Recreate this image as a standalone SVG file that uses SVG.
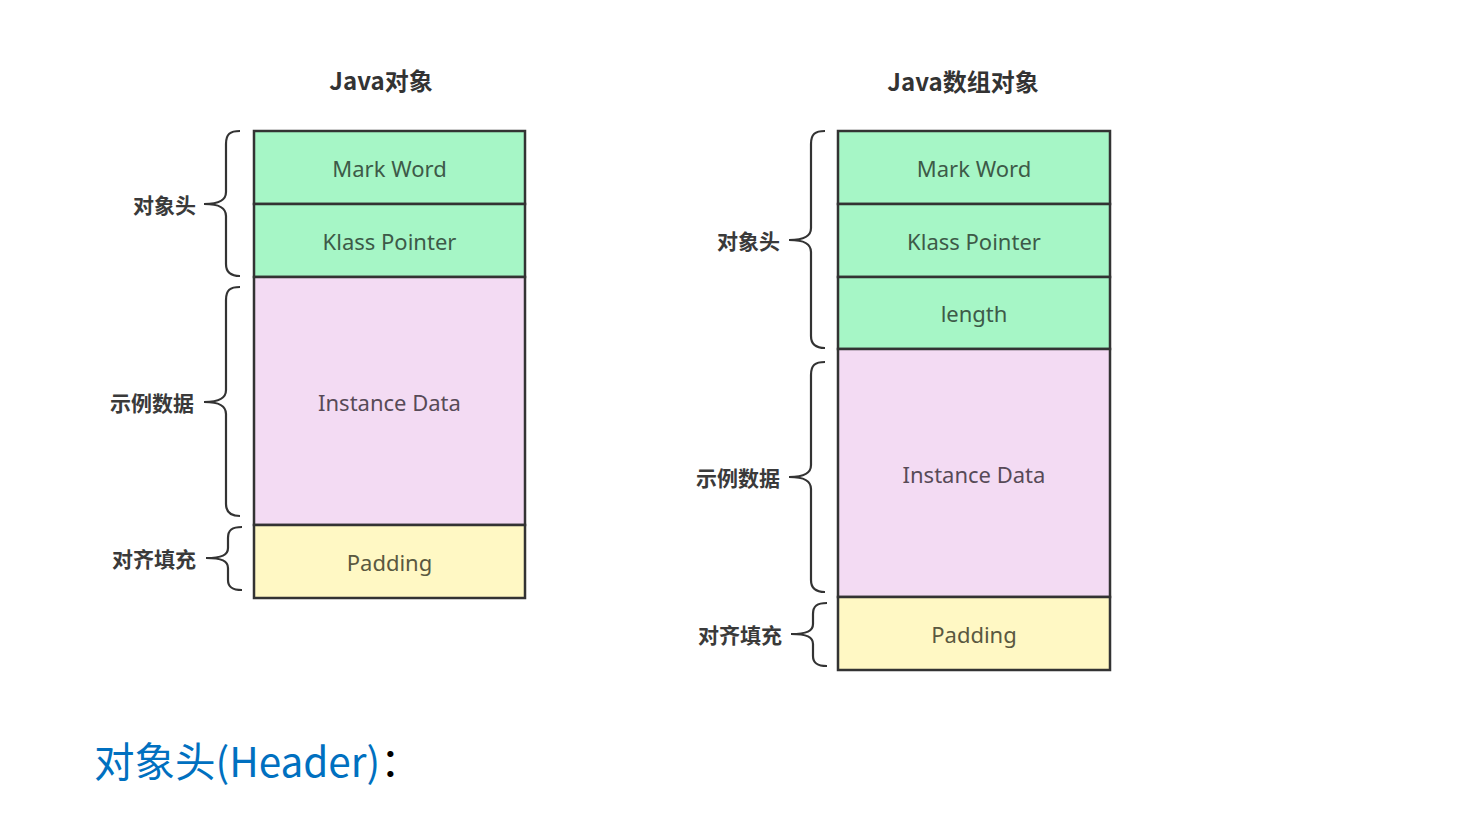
<svg xmlns="http://www.w3.org/2000/svg" width="1465" height="818" viewBox="0 0 1465 818">
<style>
.box{stroke:#333333;stroke-width:2.5}
.g{fill:#a6f6c6}
.p{fill:#f3dbf3}
.y{fill:#fff8c4}
.t{font-family:"Noto Sans","Open Sans","Noto Sans CJK SC",sans-serif;font-size:22px;text-anchor:middle;dominant-baseline:central}
.tg{fill:#3d5a48}
.tp{fill:#574a57}
.ty{fill:#5a5840}
.title{font-family:"Noto Sans CJK SC","Noto Sans",sans-serif;font-size:24px;font-weight:bold;fill:#333333;text-anchor:middle}
.lbl{font-family:"Noto Sans CJK SC",sans-serif;font-size:21px;font-weight:bold;fill:#3a3a3a;text-anchor:end;dominant-baseline:central}
.brace{fill:none;stroke:#333333;stroke-width:2.2}
</style>
<rect width="1465" height="818" fill="#ffffff"/>

<text class="title" x="381" y="90">Java对象</text>
<text class="title" x="963" y="91">Java数组对象</text>

<g id="left-mark-word"><rect class="box g" x="254" y="131" width="271" height="73"/><text class="t tg" x="389.5" y="167.5">Mark Word</text></g>
<g id="left-klass-pointer"><rect class="box g" x="254" y="204" width="271" height="73"/><text class="t tg" x="389.5" y="240.5">Klass Pointer</text></g>
<g id="left-instance-data"><rect class="box p" x="254" y="277" width="271" height="248"/><text class="t tp" x="389.5" y="401.5">Instance Data</text></g>
<g id="left-padding"><rect class="box y" x="254" y="525" width="271" height="73"/><text class="t ty" x="389.5" y="561.5">Padding</text></g>

<g id="right-mark-word"><rect class="box g" x="838" y="131" width="272" height="73"/><text class="t tg" x="974" y="167.5">Mark Word</text></g>
<g id="right-klass-pointer"><rect class="box g" x="838" y="204" width="272" height="73"/><text class="t tg" x="974" y="240.5">Klass Pointer</text></g>
<g id="right-length"><rect class="box g" x="838" y="277" width="272" height="72"/><text class="t tg" x="974" y="313">length</text></g>
<g id="right-instance-data"><rect class="box p" x="838" y="349" width="272" height="248"/><text class="t tp" x="974" y="474">Instance Data</text></g>
<g id="right-padding"><rect class="box y" x="838" y="597" width="272" height="73"/><text class="t ty" x="974" y="634">Padding</text></g>

<g id="braces">
<path class="brace" d="M240,131 C230,131 226,134 226,144 L226,192 C226,200 220,204 204,204 C220,204 226,208 226,216 L226,264 C226,272 230,276 240,276"/>
<path class="brace" d="M240,287 C230,287 226,290 226,300 L226,390 C226,398 220,402 204,402 C220,402 226,406 226,414 L226,504 C226,512 230,516 240,516"/>
<path class="brace" d="M242,527 C232,527 228,530 228,538 L228,548 C228,555 222,558 206,558 C222,558 228,561 228,568 L228,580 C228,587 232,590 242,590"/>
<path class="brace" d="M825,131 C815,131 811,134 811,144 L811,228 C811,236 805,240 789,240 C805,240 811,244 811,252 L811,336 C811,344 815,348 825,348"/>
<path class="brace" d="M825,362 C815,362 811,365 811,375 L811,465 C811,473 805,477 789,477 C805,477 811,481 811,489 L811,580 C811,588 815,592 825,592"/>
<path class="brace" d="M827,603 C817,603 813,606 813,614 L813,624 C813,631 807,634 791,634 C807,634 813,637 813,644 L813,656 C813,663 817,666 827,666"/>
</g>

<text class="lbl" x="196" y="204">对象头</text>
<text class="lbl" x="194" y="402">示例数据</text>
<text class="lbl" x="196" y="558">对齐填充</text>
<text class="lbl" x="780" y="240">对象头</text>
<text class="lbl" x="780" y="477">示例数据</text>
<text class="lbl" x="782" y="634">对齐填充</text>

<text x="94" y="777" font-family="'Noto Sans CJK SC',sans-serif" font-size="40.5" fill="#0070c0">对象头(Header)<tspan fill="#000000">：</tspan></text>
</svg>
